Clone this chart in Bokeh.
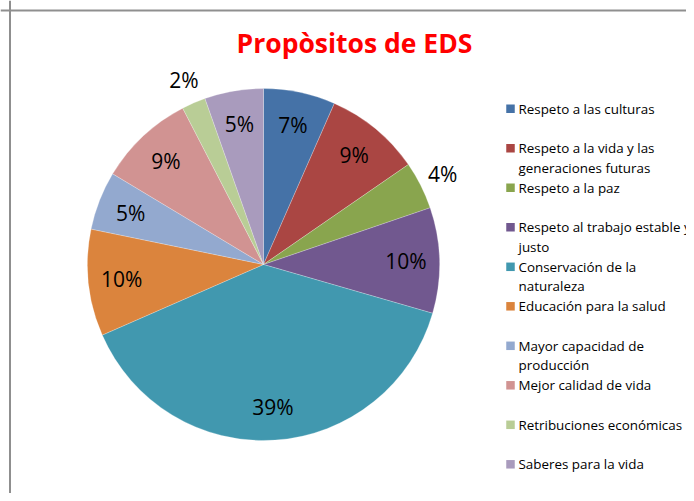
import math
from bokeh.plotting import figure
from bokeh.models import Range1d, Span
from bokeh.core.properties import value
from bokeh.embed import file_html
from bokeh.resources import INLINE

# ---- data ----
categories = [
    "Respeto a las culturas",
    "Respeto a la vida y las generaciones futuras",
    "Respeto a la paz",
    "Respeto al trabajo estable y justo",
    "Conservación de la naturaleza",
    "Educación para la salud",
    "Mayor capacidad de producción",
    "Mejor calidad de vida",
    "Retribuciones económicas",
    "Saberes para la vida",
]
legend_lines = [
    ["Respeto a las culturas"],
    ["Respeto a la vida y las", "generaciones futuras"],
    ["Respeto a la paz"],
    ["Respeto al trabajo estable y", "justo"],
    ["Conservación de la", "naturaleza"],
    ["Educación para la salud"],
    ["Mayor capacidad de", "producción"],
    ["Mejor calidad de vida"],
    ["Retribuciones económicas"],
    ["Saberes para la vida"],
]
percent = [6.6, 8.8, 4.4, 9.7, 39.0, 9.8, 5.4, 8.8, 2.2, 5.4]
pct_labels = ["7%", "9%", "4%", "10%", "39%", "10%", "5%", "9%", "2%", "5%"]
label_outside = [False, False, True, False, False, False, False, False, True, False]
colors = ["#4572A7", "#AA4643", "#89A54E", "#71588F", "#4198AF",
          "#DB843D", "#93A9CF", "#D19392", "#B9CD96", "#A99BBD"]
title = "Propòsitos de EDS"

# ---- layout (1 data unit = 1 px) ----
W, H = 686, 493
p = figure(width=W, height=H, output_backend="svg", toolbar_location=None,
           x_range=Range1d(0, W), y_range=Range1d(0, H),
           min_border=0, background_fill_color="white", border_fill_color="white")
p.axis.visible = False
p.grid.visible = False
p.outline_line_color = None

def X(px):
    return px
def Y(py):
    return H - py

# chart border
p.add_layout(Span(location=X(9.5), dimension="height", line_color="#8f8f8f", line_width=2))
p.add_layout(Span(location=Y(10), dimension="width", line_color="#8f8f8f", line_width=2))

cx, cy, R = X(263), Y(264), 176
total = sum(percent)
starts, ends, lx, ly = [], [], [], []
cum = 0.0
for v, out in zip(percent, label_outside):
    a0 = cum / total
    cum += v
    a1 = cum / total
    starts.append(math.pi / 2 - a1 * 2 * math.pi)
    ends.append(math.pi / 2 - a0 * 2 * math.pi)
    mid = math.pi / 2 - (a0 + a1) / 2 * 2 * math.pi
    r = R * (1.14 if out else 0.81)
    lx.append(cx + r * math.cos(mid))
    ly.append(cy + r * math.sin(mid))

p.wedge(x=cx, y=cy, radius=R, start_angle=starts, end_angle=ends,
        fill_color=colors, line_color="white", line_width=0.4, line_alpha=0.6)
p.text(x=lx, y=ly, text=pct_labels, text_align="center", text_baseline="middle",
       text_font=value("Open Sans"), text_font_size="21px", text_color="#000000")

# title
p.text(x=[X(354)], y=[Y(42)], text=[title], text_align="center", text_baseline="middle",
       text_font=value("Open Sans"), text_font_style="bold", text_font_size="26.5px",
       text_color="#FF0000")

# legend
sq_x, sq_y, tx, ty, ttext = [], [], [], [], []
for i, lines in enumerate(legend_lines):
    y0 = 108.3 + 39.5 * i
    sq_x.append(X(510))
    sq_y.append(Y(y0))
    for j, ln in enumerate(lines):
        tx.append(X(518))
        ty.append(Y(y0 + 19.5 * j))
        ttext.append(ln)
p.rect(x=sq_x, y=sq_y, width=8.5, height=8.5, fill_color=colors, line_color=None)
p.text(x=tx, y=ty, text=ttext, text_align="left", text_baseline="middle",
       text_font=value("Open Sans"), text_font_size="13.4px", text_color="#000000")

open("out.html", "w").write(file_html(p, INLINE))
